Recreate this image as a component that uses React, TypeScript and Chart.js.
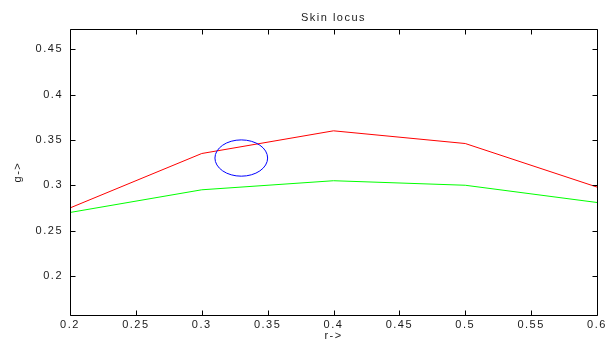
import React, { useEffect, useRef } from "react";
import { Chart, registerables } from "chart.js";

Chart.register(...registerables);

const rValues = [0.2, 0.3, 0.4, 0.5, 0.6];
const upperG = [0.275, 0.335, 0.36, 0.346, 0.298];
const lowerG = [0.27, 0.295, 0.305, 0.3, 0.281];
const xTicks = [0.2, 0.25, 0.3, 0.35, 0.4, 0.45, 0.5, 0.55, 0.6];
const yTicks = [0.2, 0.25, 0.3, 0.35, 0.4, 0.45];
const circleCenter = [0.33, 0.33];
const circleRadius = 0.02;

const FONT = "'Liberation Sans', Arial, sans-serif";
const TEXT = "#1a1a1a";

const fmt = (v: any) => String(parseFloat(Number(v).toFixed(4)));

const framePlugin = {
  id: "matlabFrame",
  beforeUpdate(chart: any) {
    try { chart.ctx.letterSpacing = "1.5px"; } catch (e) {}
  },
  beforeDraw(chart: any) {
    try { chart.ctx.letterSpacing = "1.5px"; } catch (e) {}
  },
  afterDatasetsDraw(chart: any) {
    const { ctx, chartArea, scales } = chart;
    const xs = scales.x;
    const ys = scales.y;
    const cx = xs.getPixelForValue(circleCenter[0]);
    const cy = ys.getPixelForValue(circleCenter[1]);
    const rx = Math.abs(xs.getPixelForValue(circleCenter[0] + circleRadius) - cx);
    const ry = Math.abs(ys.getPixelForValue(circleCenter[1] + circleRadius) - cy);
    ctx.save();
    ctx.strokeStyle = "#0000ff";
    ctx.lineWidth = 1;
    ctx.beginPath();
    ctx.ellipse(cx, cy, rx, ry, 0, 0, Math.PI * 2);
    ctx.stroke();
    ctx.restore();

    const l = Math.round(chartArea.left) + 0.5;
    const r = Math.round(chartArea.right) + 0.5;
    const t = Math.round(chartArea.top) + 0.5;
    const b = Math.round(chartArea.bottom) + 0.5;
    const tl = 5;
    ctx.save();
    ctx.strokeStyle = "#000";
    ctx.lineWidth = 1;
    ctx.beginPath();
    ctx.rect(l, t, r - l, b - t);
    xTicks.forEach((v) => {
      const px = Math.round(xs.getPixelForValue(v)) + 0.5;
      ctx.moveTo(px, b);
      ctx.lineTo(px, b - tl);
      ctx.moveTo(px, t);
      ctx.lineTo(px, t + tl);
    });
    yTicks.forEach((v) => {
      const py = Math.round(ys.getPixelForValue(v)) + 0.5;
      ctx.moveTo(l, py);
      ctx.lineTo(l + tl, py);
      ctx.moveTo(r, py);
      ctx.lineTo(r - tl, py);
    });
    ctx.stroke();
    ctx.restore();
  },
};

export default function App() {
  const ref = useRef<HTMLCanvasElement | null>(null);

  useEffect(() => {
    if (!ref.current) return;
    const chart = new Chart(ref.current, {
      type: "line",
      data: {
        datasets: [
          {
            label: "upper",
            data: rValues.map((x, i) => ({ x, y: upperG[i] })),
            borderColor: "#ff0000",
            borderWidth: 1,
            pointRadius: 0,
            tension: 0,
            fill: false,
          },
          {
            label: "lower",
            data: rValues.map((x, i) => ({ x, y: lowerG[i] })),
            borderColor: "#00ff00",
            borderWidth: 1,
            pointRadius: 0,
            tension: 0,
            fill: false,
          },
        ],
      },
      options: {
        animation: false,
        responsive: false,
        maintainAspectRatio: false,
        layout: { padding: { left: 0, right: 10, top: 0, bottom: 0 } },
        plugins: {
          legend: { display: false },
          tooltip: { enabled: false },
          title: {
            display: true,
            fullSize: false,
            text: "Skin locus",
            color: TEXT,
            font: { family: FONT, size: 11, weight: "normal" },
            padding: { top: 11, bottom: 5 },
          },
        },
        scales: {
          x: {
            type: "linear",
            min: 0.2,
            max: 0.6,
            afterBuildTicks: (s: any) => {
              s.ticks = xTicks.map((v) => ({ value: v }));
            },
            afterFit: (s: any) => {
              s.height = 28;
              s.paddingLeft = 0;
              s.paddingRight = 0;
            },
            grid: { display: false, drawTicks: false },
            border: { display: false },
            ticks: {
              color: TEXT,
              font: { family: FONT, size: 11 },
              padding: 3,
              maxRotation: 0,
              autoSkip: false,
              callback: (v: any) => fmt(v),
            },
            title: {
              display: true,
              text: "r->",
              color: TEXT,
              font: { family: FONT, size: 11 },
              padding: { top: 0, bottom: 0 },
            },
          },
          y: {
            type: "linear",
            min: 0.157,
            max: 0.472,
            afterBuildTicks: (s: any) => {
              s.ticks = yTicks.map((v) => ({ value: v }));
            },
            afterFit: (s: any) => {
              s.width = 70;
              s.paddingTop = 0;
              s.paddingBottom = 0;
            },
            grid: { display: false, drawTicks: false },
            border: { display: false },
            ticks: {
              color: TEXT,
              font: { family: FONT, size: 11 },
              padding: 7,
              autoSkip: false,
              callback: (v: any) => fmt(v),
            },
            title: {
              display: true,
              text: "g->",
              color: TEXT,
              font: { family: FONT, size: 11 },
              padding: { top: 11, bottom: 0 },
            },
          },
        },
      },
      plugins: [framePlugin],
    });
    return () => chart.destroy();
  }, []);

  return (
    <div style={{ position: "fixed", left: 0, top: 0, width: 607, height: 343, background: "#fff" }}>
      <canvas ref={ref} width={607} height={343} style={{ width: 607, height: 343, display: "block" }} />
    </div>
  );
}
